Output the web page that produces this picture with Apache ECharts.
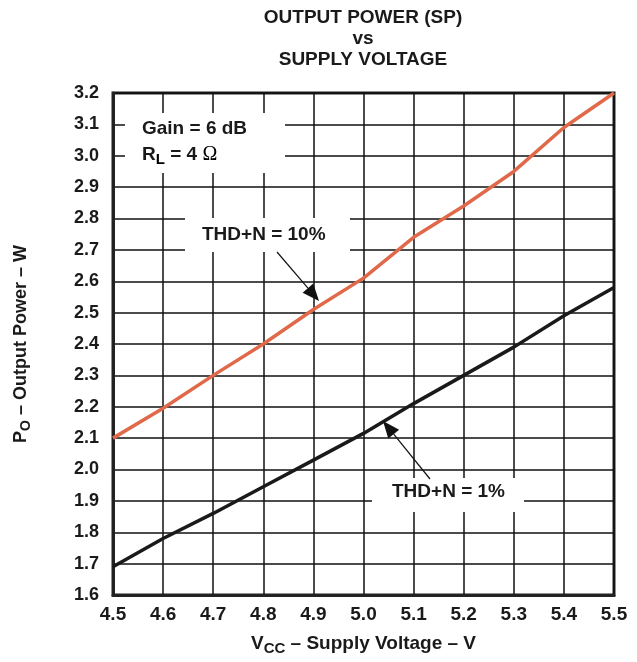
<!DOCTYPE html>
<html>
<head>
<meta charset="utf-8">
<script src="https://cdn.jsdelivr.net/npm/echarts@6/dist/echarts.min.js"></script>
<style>
html,body{margin:0;padding:0;background:#fff;}
#c{width:637px;height:662px;}
</style>
</head>
<body>
<div id="c"></div>
<script>
// ---- data ----
var voltage = [4.5, 4.6, 4.7, 4.8, 4.9, 5.0, 5.1, 5.2, 5.3, 5.4, 5.5];
var thd10 = [2.10, 2.195, 2.30, 2.40, 2.51, 2.61, 2.74, 2.84, 2.95, 3.09, 3.20];
var thd1  = [1.69, 1.78, 1.86, 1.945, 2.03, 2.115, 2.21, 2.30, 2.39, 2.49, 2.58];
var titleLines = ['OUTPUT POWER (SP)', 'vs', 'SUPPLY VOLTAGE'];
var seriesNames = ['THD+N = 10%', 'THD+N = 1%'];

var FONT = '"Liberation Sans", Arial, Helvetica, sans-serif';
var TXT = '#1a1a1a';

function pairs(xs, ys){ return xs.map(function(x,i){ return [x, ys[i]]; }); }

var chart = echarts.init(document.getElementById('c'), null, {renderer:'canvas'});

function arrow(x1,y1,x2,y2){
  var dx=x2-x1, dy=y2-y1, L=Math.sqrt(dx*dx+dy*dy);
  var ux=dx/L, uy=dy/L, hl=17, hw=7;
  var bx=x2-ux*hl, by=y2-uy*hl;
  return [
    {type:'line', z:5, shape:{x1:x1,y1:y1,x2:bx,y2:by}, style:{stroke:'#111', lineWidth:1.2}},
    {type:'polygon', z:5, shape:{points:[[x2,y2],[bx-uy*hw,by+ux*hw],[bx+uy*hw,by-ux*hw]]}, style:{fill:'#111'}}
  ];
}

var gfx = [];
// title
var ty = [18, 39, 60];
titleLines.forEach(function(t,i){
  gfx.push({type:'text', z:5, style:{text:t, x:363, y:ty[i], textAlign:'center', textVerticalAlign:'middle',
    fontFamily:FONT, fontWeight:'bold', fontSize:19, fill:TXT}});
});
// white boxes
[[125,113,160,60],[185,218,165,34],[372,478,152,34]].forEach(function(b){
  gfx.push({type:'rect', z:3, shape:{x:b[0],y:b[1],width:b[2],height:b[3]}, style:{fill:'#fff'}});
});
gfx.push({type:'text', z:5, style:{text:'Gain = 6 dB', x:142, y:129, textVerticalAlign:'middle',
  fontFamily:FONT, fontWeight:'bold', fontSize:19, fill:TXT}});
gfx.push({type:'text', z:5, style:{text:'{a|R}{s|L}{a| = 4 }{o|Ω}', x:142, y:155, textVerticalAlign:'middle',
  rich:{
    a:{fontFamily:FONT, fontWeight:'bold', fontSize:19, fill:TXT, textFill:TXT, color:TXT},
    s:{fontFamily:FONT, fontWeight:'bold', fontSize:15, padding:[10,0,0,0], color:TXT},
    o:{fontFamily:'"Liberation Serif", "Times New Roman", serif', fontWeight:'normal', fontSize:20, color:TXT}
  }}});
gfx.push({type:'text', z:5, style:{text:seriesNames[0], x:202, y:235, textVerticalAlign:'middle',
  fontFamily:FONT, fontWeight:'bold', fontSize:19, fill:TXT}});
gfx.push({type:'text', z:5, style:{text:seriesNames[1], x:392, y:492, textVerticalAlign:'middle',
  fontFamily:FONT, fontWeight:'bold', fontSize:19, fill:TXT}});
gfx = gfx.concat(arrow(277,252,319,301));
gfx = gfx.concat(arrow(430,479,383,421));

var option = {
  backgroundColor:'#fff',
  animation:false,
  grid:{left:113, top:93, width:501, height:502, show:true, borderColor:'#222', borderWidth:3, backgroundColor:'transparent'},
  xAxis:{
    type:'value', min:4.5, max:5.5, interval:0.1,
    name:'{m|V}{s|CC}{m| – Supply Voltage – V}', nameLocation:'middle', nameGap:36,
    nameTextStyle:{rich:{
      m:{fontFamily:FONT, fontWeight:'bold', fontSize:19, color:TXT},
      s:{fontFamily:FONT, fontWeight:'bold', fontSize:15, color:TXT, padding:[10,0,0,0]}
    }},
    axisLine:{show:true, lineStyle:{color:'#222', width:3}},
    axisTick:{show:false},
    splitLine:{show:true, lineStyle:{color:'#111', width:1.5}},
    axisLabel:{margin:10, fontFamily:FONT, fontWeight:'bold', fontSize:19, color:TXT,
      formatter:function(v){ return v.toFixed(1); }}
  },
  yAxis:{
    type:'value', min:1.6, max:3.2, interval:0.1,
    name:'{m|P}{s|O}{m| – Output Power – W}', nameLocation:'middle', nameGap:80, nameRotate:90,
    nameTextStyle:{rich:{
      m:{fontFamily:FONT, fontWeight:'bold', fontSize:18, color:TXT},
      s:{fontFamily:FONT, fontWeight:'bold', fontSize:14, color:TXT, padding:[10,0,0,0]}
    }},
    axisLine:{show:true, lineStyle:{color:'#222', width:3}},
    axisTick:{show:false},
    splitLine:{show:true, lineStyle:{color:'#111', width:1.5}},
    axisLabel:{margin:14, fontFamily:FONT, fontWeight:'bold', fontSize:18, color:TXT,
      formatter:function(v){ return v.toFixed(1); }}
  },
  series:[
    {name:seriesNames[0], type:'line', data:pairs(voltage, thd10), symbol:'none', z:4,
      lineStyle:{color:'#E0694A', width:3.5}},
    {name:seriesNames[1], type:'line', data:pairs(voltage, thd1), symbol:'none', z:4,
      lineStyle:{color:'#1a1a1a', width:3.5}}
  ],
  graphic:gfx
};
chart.setOption(option);
</script>
</body>
</html>
